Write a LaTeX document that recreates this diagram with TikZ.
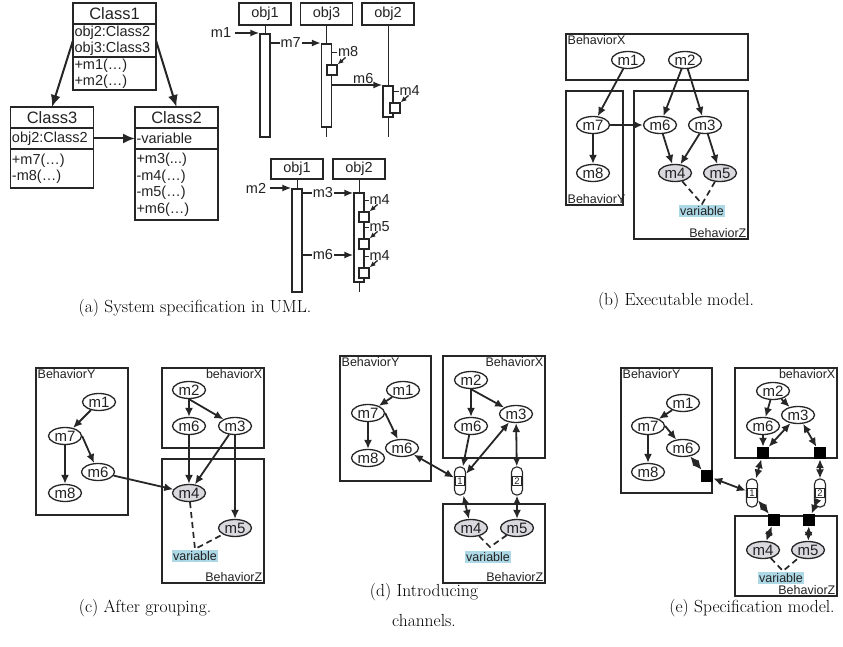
\documentclass[tikz,border=0pt]{standalone}
\usepackage{fontspec}
\usepackage{tikz}
\usetikzlibrary{arrows.meta,calc,positioning,shapes.geometric}
\newfontfamily\arial{Liberation Sans}
\definecolor{cizgiSiyah}{HTML}{262626}
\definecolor{yaziSiyah}{HTML}{222222}
\definecolor{dugumGri}{HTML}{D9D9DE}
\definecolor{degiskenMavi}{HTML}{ADD8E6}

\tikzset{
  every node/.style={font=\arial\fontsize{14.5}{16.5}\selectfont,text=yaziSiyah},
  sinif/.style={draw=cizgiSiyah,line width=1.3pt,minimum width=83pt,inner sep=1.5pt,outer sep=0pt},
  sinifbas/.style={sinif,minimum height=21pt,font=\arial\fontsize{16.5}{18}\selectfont},
  sinifsat/.style={sinif,text width=80pt,align=left},
  kalin/.style={-{Latex[length=12pt,width=10pt]},line width=2pt,draw=cizgiSiyah},
  nesne/.style={draw=cizgiSiyah,line width=1.1pt,minimum width=52pt,minimum height=22pt,inner sep=0pt},
  hayat/.style={draw=cizgiSiyah,line width=0.9pt},
  cubuk/.style={draw=cizgiSiyah,line width=1.1pt,fill=white,minimum width=10pt,inner sep=0pt},
  kutu/.style={draw=cizgiSiyah,line width=1.1pt,fill=white,minimum width=10pt,minimum height=10pt,inner sep=0pt},
  mesaj/.style={-{Latex[length=9pt,width=7pt]},line width=1.8pt,draw=cizgiSiyah},
  kisaok/.style={-{Latex[length=6pt,width=5pt]},line width=1.3pt,draw=cizgiSiyah},
  etiket/.style={fill=white,inner sep=1pt},
  mdugum/.style={ellipse,draw=cizgiSiyah,line width=1.3pt,fill=white,minimum width=33pt,minimum height=17pt,inner sep=0pt,font=\arial\fontsize{15}{16}\selectfont},
  paylasim/.style={mdugum,fill=dugumGri},
  grup/.style={draw=cizgiSiyah,line width=1.4pt},
  grupyazi/.style={font=\arial\fontsize{12.5}{13}\selectfont,inner sep=1.5pt},
  degisken/.style={fill=degiskenMavi,font=\arial\fontsize{12.5}{13}\selectfont,inner sep=1pt},
  ok/.style={-{Latex[length=9pt,width=8pt]},line width=1.8pt,draw=cizgiSiyah},
  ciftok/.style={{Latex[length=9pt,width=8pt]}-{Latex[length=9pt,width=8pt]},line width=1.8pt,draw=cizgiSiyah},
  kesik/.style={dash pattern=on 6pt off 4pt,line width=1.7pt,draw=cizgiSiyah},
  kanal/.style={draw=cizgiSiyah,line width=1.1pt,fill=white,rounded corners=5pt,minimum width=11pt,minimum height=28pt,inner sep=0pt},
  kanalno/.style={draw=cizgiSiyah,line width=0.8pt,fill=white,font=\arial\fontsize{9.5}{10}\selectfont,minimum size=9pt,inner sep=0pt},
  port/.style={fill=black,minimum width=12pt,minimum height=12pt,inner sep=0pt},
  altyazi/.style={font=\fontsize{17.5}{30}\selectfont,text=black}
}

\begin{document}
\begin{tikzpicture}[x=1pt,y=-1pt]
\useasboundingbox (0,0) rectangle (843,647);
% (a) classes
\node[sinifbas] (c1) at (114.5,13.5) {Class1};
\node[sinifsat,below=0pt of c1,minimum height=31pt] (c1a) {obj2:Class2\\obj3:Class3};
\node[sinifsat,below=0pt of c1a,minimum height=31pt] (c1m) {+m1(…)\\+m2(…)};
\node[sinifbas] (c3) at (52,117.5) {Class3};
\node[sinifsat,below=0pt of c3,minimum height=21pt] (c3a) {obj2:Class2};
\node[sinifsat,below=0pt of c3a,minimum height=39pt] (c3m) {+m7(…)\\-m8(…)};
\node[sinifbas] (c2) at (176.5,117.5) {Class2};
\node[sinifsat,below=0pt of c2,minimum height=21pt] (c2a) {-variable};
\node[sinifsat,below=0pt of c2a,minimum height=71pt] (c2m) {+m3(...)\\-m4(…)\\-m5(…)\\+m6(…)};
\draw[kalin] (c1a.west) -- (c3.north);
\draw[kalin] (c1a.east) -- (c2.north);
\draw[kalin] (c3a.east) -- (c2a.west);

% (a) sequence 1
\node[nesne] (s1o1) at (265,14) {obj1};
\node[nesne] (s1o3) at (326.5,14) {obj3};
\node[nesne] (s1o2) at (388,14) {obj2};
\draw[hayat] (s1o1) -- (s1o1 |- 0,137);
\draw[hayat] (s1o3) -- (s1o3 |- 0,137);
\draw[hayat] (s1o2) -- (s1o2 |- 0,137);
\node[cubuk,minimum height=103pt] (s1b1) at (265,85.5) {};
\node[cubuk,minimum height=83pt] (s1b3) at (326.5,85.5) {};
\node[cubuk,minimum height=31pt] (s1b2) at (388,101.5) {};
\node (s1m1) at (221,33) {m1};
\draw[mesaj] (s1m1.east) -- (s1m1.east -| s1b1.west);
\draw[mesaj] (s1b1.east |- 0,43) -- (s1b3.west |- 0,43) node[etiket,pos=0.4] {m7};
\draw[hayat] (s1b3.east |- 0,52) -- ++(5,0) node[right,inner sep=0.5pt] {m8};
\node[kutu] (s1x8) at (332,70) {};
\draw[kisaok] ($(s1x8.north east)+(8,-7)$) -- (s1x8.north east);
\draw[mesaj] (s1b3.east |- 0,85) -- (s1b2.west |- 0,85) node[pos=0.62,anchor=south,inner sep=0.5pt] {m6};
\draw[hayat] (s1b2.east |- 0,91) -- ++(5,0) node[right,inner sep=0.5pt] {m4};
\node[kutu] (s1x4) at (395,108) {};
\draw[kisaok] ($(s1x4.north east)+(8,-7)$) -- (s1x4.north east);

% (a) sequence 2
\node[nesne,minimum height=20pt] (s2o1) at (297,169) {obj1};
\node[nesne,minimum height=20pt] (s2o2) at (359,169) {obj2};
\draw[hayat] (s2o1) -- (s2o1 |- 0,292);
\draw[hayat] (s2o2) -- (s2o2 |- 0,292);
\node[cubuk,minimum height=103pt] (s2b1) at (297,240.5) {};
\node[cubuk,minimum height=89pt] (s2b2) at (359,237.5) {};
\node (s2m2) at (256,188) {m2};
\draw[mesaj] (s2m2.east) -- (s2m2.east -| s2b1.west);
\draw[mesaj] (s2b1.east |- 0,193) -- (s2b2.west |- 0,193) node[etiket,pos=0.4] {m3};
\draw[mesaj] (s2b1.east |- 0,255) -- (s2b2.west |- 0,255) node[etiket,pos=0.4] {m6};
\draw[hayat] (s2b2.east |- 0,200) -- ++(4,0) node[right,inner sep=0.5pt] {m4};
\node[kutu] (s2x4a) at (364,217) {};
\draw[kisaok] ($(s2x4a.north east)+(8,-7)$) -- (s2x4a.north east);
\draw[hayat] (s2b2.east |- 0,227) -- ++(4,0) node[right,inner sep=0.5pt] {m5};
\node[kutu] (s2x5) at (364,244) {};
\draw[kisaok] ($(s2x5.north east)+(8,-7)$) -- (s2x5.north east);
\draw[hayat] (s2b2.east |- 0,256) -- ++(4,0) node[right,inner sep=0.5pt] {m4};
\node[kutu] (s2x4b) at (364,273) {};
\draw[kisaok] ($(s2x4b.north east)+(8,-7)$) -- (s2x4b.north east);
\node[altyazi] (capA) at (195,308) {(a) System specification in UML.};

% (b) executable model
\draw[grup] (566,34) rectangle (748,80);
\draw[grup] (566,91) rectangle (623,205);
\draw[grup] (634,91) rectangle (748,239);
\node[grupyazi,anchor=north west] at (566,34) {BehaviorX};
\node[grupyazi,anchor=south west] at (566,205) {BehaviorY};
\node[grupyazi,anchor=south east] at (748,239) {BehaviorZ};
\node[mdugum] (b1) at (628,60) {m1};
\node[mdugum] (b2) at (685,60) {m2};
\node[mdugum] (b7) at (593,125) {m7};
\node[mdugum] (b8) at (593,173) {m8};
\node[mdugum] (b6) at (660,125) {m6};
\node[mdugum] (b3) at (705,125) {m3};
\node[paylasim] (b4) at (675,173) {m4};
\node[paylasim] (b5) at (720,173) {m5};
\coordinate (bv) at (702,204);
\draw[kesik] (b4) -- (bv) -- (b5);
\node[degisken] (bvar) at (702,211) {variable};
\draw[ok] (b1) -- (b7);
\draw[ok] (b2) -- (b6);
\draw[ok] (b2) -- (b3);
\draw[ok] (b7) -- (b6);
\draw[ok] (b7) -- (b8);
\draw[ok] (b6) -- (b4);
\draw[ok] (b3) -- (b4);
\draw[ok] (b3) -- (b5);
\node[altyazi] (capB) at (676,301) {(b) Executable model.};

% (c) after grouping
\draw[grup] (36,368) rectangle (128,515);
\draw[grup] (162,368) rectangle (264,448);
\draw[grup] (162,459) rectangle (264,583);
\node[grupyazi,anchor=north west] at (36,368) {BehaviorY};
\node[grupyazi,anchor=north east] at (264,368) {behaviorX};
\node[grupyazi,anchor=south east] at (264,583) {BehaviorZ};
\node[mdugum] (c1) at (99,402) {m1};
\node[mdugum] (c7) at (65,436) {m7};
\node[mdugum] (c6y) at (98,472) {m6};
\node[mdugum] (c8) at (65,493) {m8};
\node[mdugum] (c2) at (189,390) {m2};
\node[mdugum] (c6x) at (189,426) {m6};
\node[mdugum] (c3) at (235,426) {m3};
\node[paylasim] (c4) at (189,493) {m4};
\node[paylasim] (c5) at (235,528) {m5};
\coordinate (cv) at (195,549);
\draw[kesik] (c4) -- (cv) -- (c5);
\node[degisken] (cvar) at (195,556) {variable};
\draw[ok] (c1) -- (c7);
\draw[ok] (c7) -- (c8);
\draw[ok] (c7.east) -- (c6y);
\draw[ok] (c6y) -- (c4);
\draw[ok] (c2.south) -- (c6x);
\draw[ok] (c2.south) -- (c3);
\draw[ok] (c6x) -- (c4);
\draw[ok] (c3) -- (c4);
\draw[ok] (c3) -- (c5);
\node[altyazi] (capC) at (145,608) {(c) After grouping.};

% (d) channels
\draw[grup] (340,356) rectangle (431,481);
\draw[grup] (443,356) rectangle (545,458);
\draw[grup] (443,504) rectangle (545,583);
\node[grupyazi,anchor=north west] at (340,356) {BehaviorY};
\node[grupyazi,anchor=north east] at (545,356) {BehaviorX};
\node[grupyazi,anchor=south east] at (545,583) {BehaviorZ};
\node[mdugum] (d1) at (403,390) {m1};
\node[mdugum] (d7) at (368,413) {m7};
\node[mdugum] (d8) at (368,458) {m8};
\node[mdugum] (d6y) at (402,448) {m6};
\node[mdugum] (d2) at (471,380) {m2};
\node[mdugum] (d6x) at (471,426) {m6};
\node[mdugum] (d3) at (516,414) {m3};
\node[paylasim] (d4) at (471,528) {m4};
\node[paylasim] (d5) at (517,528) {m5};
\node[kanal] (dk1) at (460,481) {};
\node[kanalno] (dk1n) at (dk1) {1};
\node[kanal] (dk2) at (517,481) {};
\node[kanalno] (dk2n) at (dk2) {2};
\coordinate (dv) at (490,547);
\draw[kesik] (d4) -- (dv) -- (d5);
\node[degisken] (dvar) at (488,557) {variable};
\draw[ok] (d1) -- (d7);
\draw[ok] (d7) -- (d8);
\draw[ok] (d7.east) -- (d6y);
\draw[ok] (d2.south) -- (d6x);
\draw[ok] (d2.south) -- (d3);
\draw[ok] (d6x) -- (dk1);
\draw[ciftok] (d3) -- (dk1);
\draw[ciftok] (d6y) -- (dk1);
\draw[ciftok] (d3) -- (dk2);
\draw[ciftok] (dk1) -- (d4);
\draw[ciftok] (dk2) -- (d5);
\node[altyazi,align=center] (capD) at (424,605) {(d) Introducing\\channels.};

% (e) specification model
\draw[grup] (621,368) rectangle (712,493);
\draw[grup] (735,368) rectangle (837,458);
\draw[grup] (735,516) rectangle (837,596);
\node[grupyazi,anchor=north west] at (621,368) {BehaviorY};
\node[grupyazi,anchor=north east] at (837,368) {behaviorX};
\node[grupyazi,anchor=south east] at (837,596) {BehaviorZ};
\node[mdugum] (e1) at (683,403) {m1};
\node[mdugum] (e7) at (648,426) {m7};
\node[mdugum] (e6y) at (683,448) {m6};
\node[mdugum] (e8) at (648,472) {m8};
\node[mdugum] (e2) at (773,391) {m2};
\node[mdugum] (e6x) at (763,426) {m6};
\node[mdugum] (e3) at (798,415) {m3};
\node[paylasim] (e4) at (763,550) {m4};
\node[paylasim] (e5) at (808,550) {m5};
\node[port] (epY) at (707,476) {};
\node[port] (epX1) at (763,453) {};
\node[port] (epX2) at (820,453) {};
\node[port] (epZ1) at (774,520) {};
\node[port] (epZ2) at (809,520) {};
\node[kanal] (ek1) at (752,493) {};
\node[kanalno] (ek1n) at (ek1) {1};
\node[kanal] (ek2) at (820,493) {};
\node[kanalno] (ek2n) at (ek2) {2};
\coordinate (ev) at (783,571);
\draw[kesik] (e4) -- (ev) -- (e5);
\node[degisken] (evar) at (781,578) {variable};
\draw[ok] (e1) -- (e7);
\draw[ok] (e7) -- (e8);
\draw[ok] (e7.east) -- (e6y);
\draw[ok] (e2) -- (e6x);
\draw[ok] (e2) -- (e3);
\draw[ok] (e6x) -- (epX1);
\draw[ciftok] (e3) -- (epX1);
\draw[ciftok] (e3) -- (epX2);
\draw[ciftok] (e6y) -- (epY);
\draw[ciftok] (epY) -- (ek1);
\draw[ciftok] (epX1) -- (ek1);
\draw[ciftok] (epX2) -- (ek2);
\draw[ciftok] (ek1) -- (epZ1);
\draw[ciftok] (ek2) -- (epZ2);
\draw[ciftok] (epZ1) -- (e4);
\draw[ciftok] (epZ2) -- (e5);
\node[altyazi] (capE) at (752,608) {(e) Specification model.};
\end{tikzpicture}
\end{document}
